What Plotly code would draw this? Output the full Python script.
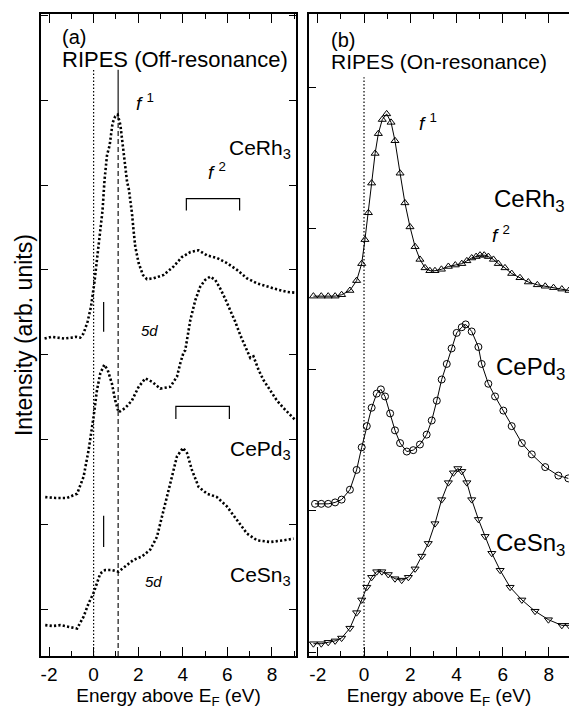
import plotly.graph_objects as go

# ---------------- (a) RIPES off-resonance ----------------
e_rh_off = [-2.2, -1.9, -1.6, -1.3, -1.0, -0.8, -0.6, -0.45, -0.27, -0.12, 0.03, 0.15, 0.30, 0.40,
            0.49, 0.60, 0.72, 0.79, 0.85, 0.97, 1.08, 1.20, 1.30, 1.38, 1.44, 1.50, 1.58, 1.66,
            1.72, 1.79, 1.87, 2.02, 2.21, 2.39, 2.69, 3.14, 3.59, 3.96, 4.34, 4.71, 5.09, 5.53,
            5.98, 6.43, 6.88, 7.33, 7.78, 8.22, 8.67, 9.04]
i_rh_off = [4.19, 4.21, 4.20, 4.19, 4.20, 4.21, 4.20, 4.25, 4.39, 4.56, 4.84, 5.12, 5.43, 5.70,
            6.06, 6.35, 6.47, 6.63, 6.73, 6.81, 6.83, 6.71, 6.47, 6.35, 6.18, 6.04, 5.95, 5.80,
            5.67, 5.47, 5.27, 5.08, 4.94, 4.89, 4.90, 4.94, 5.04, 5.15, 5.21, 5.23, 5.17, 5.14,
            5.08, 5.00, 4.90, 4.84, 4.80, 4.77, 4.74, 4.73]

e_pd_off = [-2.17, -1.7, -1.19, -0.74, -0.45, -0.22, 0.0, 0.15, 0.30, 0.48, 0.63, 0.82, 0.97,
            1.12, 1.42, 1.72, 2.02, 2.32, 2.62, 2.99, 3.44, 3.74, 3.89, 4.04, 4.11, 4.34, 4.56,
            4.78, 5.00, 5.23, 5.46, 5.68, 5.90, 6.13, 6.35, 6.58, 6.80, 7.03, 7.17, 7.40, 7.62,
            7.92, 8.22, 8.52, 8.82, 9.04]
i_pd_off = [2.32, 2.31, 2.31, 2.36, 2.56, 2.88, 3.27, 3.58, 3.78, 3.88, 3.82, 3.66, 3.46,
            3.32, 3.37, 3.46, 3.62, 3.72, 3.68, 3.60, 3.62, 3.74, 3.90, 4.03, 4.05, 4.41, 4.64,
            4.80, 4.88, 4.92, 4.88, 4.78, 4.66, 4.53, 4.39, 4.23, 4.09, 3.96, 3.98, 3.82, 3.70,
            3.58, 3.46, 3.37, 3.29, 3.23]

e_sn_off = [-2.17, -1.83, -1.49, -1.1, -0.74, -0.45, -0.22, 0.0, 0.15, 0.30, 0.52, 0.82, 1.12,
            1.42, 1.79, 2.17, 2.54, 2.84, 3.14, 3.44, 3.74, 4.01, 4.19, 4.41, 4.71, 5.09, 5.53,
            5.98, 6.43, 6.88, 7.33, 7.92, 8.52, 8.97]
i_sn_off = [0.81, 0.80, 0.81, 0.79, 0.77, 0.91, 1.07, 1.19, 1.30, 1.42, 1.46, 1.46, 1.44,
            1.50, 1.58, 1.62, 1.70, 1.85, 2.17, 2.48, 2.80, 2.90, 2.84, 2.64, 2.44, 2.36, 2.32,
            2.21, 2.05, 1.89, 1.81, 1.79, 1.81, 1.83]

# ---------------- (b) RIPES on-resonance ----------------
e_rh_on = [-2.19, -1.85, -1.55, -1.25, -0.97, -0.61, -0.32, -0.10, 0.04, 0.19, 0.33, 0.48, 0.62,
           0.79, 0.98, 1.17, 1.34, 1.56, 1.77, 1.99, 2.21, 2.42, 2.64, 2.85, 3.07, 3.35, 3.65,
           3.95, 4.23, 4.45, 4.66, 4.85, 5.02, 5.20, 5.38, 5.60, 5.81, 6.10, 6.39, 6.75, 7.11,
           7.50, 7.84, 8.20, 8.56, 8.87]
i_rh_on = [2.52, 2.52, 2.52, 2.52, 2.53, 2.56, 2.63, 2.75, 2.92, 3.11, 3.32, 3.53, 3.67,
           3.77, 3.81, 3.75, 3.62, 3.39, 3.18, 3.01, 2.87, 2.78, 2.72, 2.70, 2.70, 2.71, 2.73,
           2.74, 2.75, 2.77, 2.79, 2.80, 2.81, 2.81, 2.80, 2.78, 2.75, 2.72, 2.68, 2.65, 2.62,
           2.60, 2.59, 2.58, 2.57, 2.56]

e_pd_on = [-2.12, -1.85, -1.55, -1.25, -0.97, -0.61, -0.32, -0.10, 0.12, 0.33, 0.55, 0.73, 0.91,
           1.13, 1.34, 1.56, 1.85, 2.13, 2.42, 2.71, 2.93, 3.15, 3.36, 3.58, 3.79, 4.01, 4.23,
           4.40, 4.66, 4.95, 5.09, 5.38, 5.67, 6.03, 6.39, 6.83, 7.26, 7.84, 8.41, 8.84]
i_pd_on = [1.05, 1.05, 1.05, 1.06, 1.08, 1.15, 1.29, 1.45, 1.60, 1.73, 1.83, 1.86, 1.81,
           1.69, 1.57, 1.48, 1.42, 1.43, 1.47, 1.54, 1.64, 1.78, 1.93, 2.04, 2.15, 2.26, 2.30,
           2.32, 2.27, 2.16, 2.04, 1.90, 1.81, 1.71, 1.60, 1.48, 1.40, 1.31, 1.25, 1.23]

e_sn_on = [-2.19, -1.85, -1.55, -1.25, -0.97, -0.61, -0.32, -0.10, 0.12, 0.33, 0.55, 0.77, 1.05,
           1.34, 1.63, 1.92, 2.21, 2.50, 2.78, 3.07, 3.36, 3.65, 3.87, 4.06, 4.23, 4.45, 4.66,
           4.95, 5.24, 5.53, 5.89, 6.32, 6.83, 7.40, 7.98, 8.56, 8.87]
i_sn_on = [0.06, 0.06, 0.07, 0.08, 0.10, 0.17, 0.28, 0.37, 0.46, 0.53, 0.57, 0.57, 0.55,
           0.52, 0.51, 0.53, 0.59, 0.68, 0.77, 0.91, 1.08, 1.20, 1.27, 1.30, 1.28, 1.20, 1.08,
           0.94, 0.82, 0.70, 0.58, 0.46, 0.37, 0.29, 0.23, 0.19, 0.19]

x_tick_vals = [-2, 0, 2, 4, 6, 8]
x_tick_text = ["-2", "0", "2", "4", "6", "8"]

E_FERMI = 0.0
F1_POS = 1.1

FONT = "Liberation Sans, Arial, Helvetica, sans-serif"
BLACK = "black"

fig = go.Figure()

off_style = dict(color=BLACK, width=2.6, dash="2.2px,2.2px")
for e, i in [(e_rh_off, i_rh_off), (e_pd_off, i_pd_off), (e_sn_off, i_sn_off)]:
    fig.add_trace(go.Scatter(x=e, y=i, mode="lines", line=off_style,
                             xaxis="x", yaxis="y", showlegend=False, hoverinfo="skip"))

for e, i, sym in [(e_rh_on, i_rh_on, "triangle-up-open"),
                  (e_pd_on, i_pd_on, "circle-open"),
                  (e_sn_on, i_sn_on, "triangle-down-open")]:
    fig.add_trace(go.Scatter(x=e, y=i, mode="lines+markers",
                             line=dict(color=BLACK, width=1),
                             marker=dict(symbol=sym, size=7, color=BLACK, line=dict(width=1, color=BLACK)),
                             xaxis="x2", yaxis="y2", showlegend=False, hoverinfo="skip"))

common_x = dict(showgrid=False, zeroline=False, showline=True, linecolor=BLACK, linewidth=1.5,
                mirror="ticks", ticks="inside", ticklen=9, tickwidth=1.2, tickcolor=BLACK,
                tickvals=x_tick_vals, ticktext=x_tick_text,
                tickfont=dict(family=FONT, size=19, color=BLACK),
                minor=dict(dtick=1, tick0=0, ticks="inside", ticklen=5, tickwidth=1.2, tickcolor=BLACK, showgrid=False),
                title=dict(text="Energy above E<sub>F</sub> (eV)", font=dict(family=FONT, size=19, color=BLACK), standoff=5))

fig.update_layout(
    width=569, height=712,
    margin=dict(l=41, r=0, t=14, b=56),
    paper_bgcolor="white", plot_bgcolor="white",
    xaxis=dict(domain=[0, 0.483], range=[-2.36, 9.08], anchor="y", **common_x),
    yaxis=dict(domain=[0, 1], range=[0.446, 8.017], dtick=1, tick0=0, showticklabels=False,
               showgrid=False, zeroline=False, showline=True, linecolor=BLACK, linewidth=1.5,
               mirror="ticks", ticks="inside", ticklen=7, tickwidth=1.2, tickcolor=BLACK, anchor="x"),
    xaxis2=dict(domain=[0.5076, 1], range=[-2.38, 8.87], anchor="y2", **common_x),
    yaxis2=dict(domain=[0, 1], range=[-0.027, 4.517], dtick=1, tick0=0, showticklabels=False,
                showgrid=False, zeroline=False, showline=True, linecolor=BLACK, linewidth=1.5,
                mirror=False, ticks="inside", ticklen=7, tickwidth=1.2, tickcolor=BLACK, anchor="x2"),
    yaxis3=dict(overlaying="y2", side="right", anchor="x2", range=[-0.027, 4.517], dtick=1, tick0=0,
                showticklabels=False, showgrid=False, zeroline=False, showline=False,
                ticks="inside", ticklen=7, tickwidth=1.2, tickcolor=BLACK),
)

shapes = []
# left panel reference lines
shapes.append(dict(type="line", xref="x", yref="y", x0=E_FERMI, x1=E_FERMI, y0=0.446, y1=7.36,
                   line=dict(color=BLACK, width=1.2, dash="1.5px,2px")))
shapes.append(dict(type="line", xref="x", yref="y", x0=F1_POS, x1=F1_POS, y0=6.83, y1=7.36,
                   line=dict(color=BLACK, width=1.1)))
shapes.append(dict(type="line", xref="x", yref="y", x0=F1_POS, x1=F1_POS, y0=0.446, y1=6.83,
                   line=dict(color=BLACK, width=1.1, dash="5px,3px")))
# 5d markers
shapes.append(dict(type="line", xref="x", yref="y", x0=0.45, x1=0.45, y0=4.27, y1=4.62,
                   line=dict(color=BLACK, width=1.2)))
shapes.append(dict(type="line", xref="x", yref="y", x0=0.45, x1=0.45, y0=1.73, y1=2.10,
                   line=dict(color=BLACK, width=1.2)))
# f2 brackets
for xa, xb, ytop, ybot in [(4.16, 6.55, 5.84, 5.70), (3.69, 6.09, 3.39, 3.24)]:
    shapes.append(dict(type="path", xref="x", yref="y",
                       path=f"M {xa},{ybot} L {xa},{ytop} L {xb},{ytop} L {xb},{ybot}",
                       line=dict(color=BLACK, width=1.2)))
# right panel Fermi level
shapes.append(dict(type="line", xref="x2", yref="y2", x0=E_FERMI, x1=E_FERMI, y0=-0.027, y1=4.07,
                   line=dict(color=BLACK, width=1.2, dash="1.5px,2px")))
fig.update_layout(shapes=shapes)

ann = []
def A(text, x, y, xref, yref, size, xanchor="left", yanchor="middle", angle=0):
    ann.append(dict(text=text, x=x, y=y, xref=xref, yref=yref, showarrow=False,
                    xanchor=xanchor, yanchor=yanchor, textangle=angle,
                    font=dict(family=FONT, size=size, color=BLACK)))

A("(a)", -1.5, 7.75, "x", "y", 20)
A("RIPES (Off-resonance)", -1.5, 7.48, "x", "y", 22)
A("<i>f</i> <sup>1</sup>", 1.83, 6.98, "x", "y", 19)
A("CeRh<sub>3</sub>", 8.96, 6.42, "x", "y", 21, xanchor="right")
A("<i>f</i> <sup>2</sup>", 5.02, 6.17, "x", "y", 19)
A("<i>5d</i>", 2.05, 4.28, "x", "y", 15)
A("CePd<sub>3</sub>", 8.96, 2.87, "x", "y", 21, xanchor="right")
A("CeSn<sub>3</sub>", 8.96, 1.39, "x", "y", 21, xanchor="right")
A("<i>5d</i>", 2.23, 1.33, "x", "y", 15)

A("(b)", -1.5, 4.33, "x2", "y2", 20)
A("RIPES (On-resonance)", -1.5, 4.18, "x2", "y2", 21)
A("<i>f</i> <sup>1</sup>", 2.29, 3.75, "x2", "y2", 19)
A("CeRh<sub>3</sub>", 8.80, 3.20, "x2", "y2", 24, xanchor="right")
A("<i>f</i> <sup>2</sup>", 5.45, 2.96, "x2", "y2", 19)
A("CePd<sub>3</sub>", 8.80, 2.01, "x2", "y2", 24, xanchor="right")
A("CeSn<sub>3</sub>", 8.80, 0.76, "x2", "y2", 24, xanchor="right")

A("Intensity (arb. units)", -0.032, 0.5, "paper", "paper", 23, xanchor="center", angle=-90)
fig.update_layout(annotations=ann)

fig.write_html("out.html")
